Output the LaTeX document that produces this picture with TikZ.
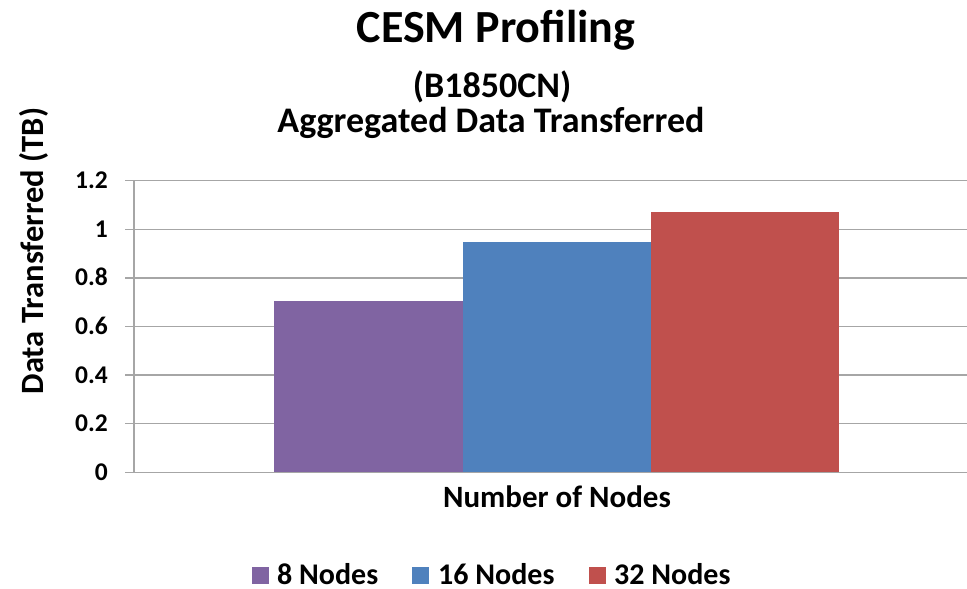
\documentclass[tikz,border=0pt]{standalone}
\usepackage{fontspec}
\setmainfont{Carlito}
\definecolor{gridgray}{HTML}{A6A6A6}
\definecolor{barpurple}{HTML}{8064A2}
\definecolor{barblue}{HTML}{4F81BD}
\definecolor{barred}{HTML}{C0504D}
\tikzset{
  gridline/.style={draw=gridgray, line width=1.5pt},
  ticklabel/.style={anchor=base east, inner sep=0pt, font=\bfseries\fontsize{25.5}{30}\selectfont},
  axistitle/.style={anchor=base, inner sep=0pt, font=\bfseries\fontsize{31}{36}\selectfont},
  ytitletext/.style={anchor=base, inner sep=0pt, rotate=90, font=\bfseries\fontsize{32.5}{38}\selectfont},
  legendtext/.style={anchor=base west, inner sep=0pt, font=\bfseries\fontsize{30}{36}\selectfont},
  titletext/.style={anchor=base, inner sep=0pt, font=\bfseries\fontsize{46}{52}\selectfont},
  subtitletext/.style={anchor=base, inner sep=0pt, font=\bfseries\fontsize{36}{42}\selectfont},
}
\begin{document}
\begin{tikzpicture}[x=1pt, y=-1pt]
  \useasboundingbox[fill=white] (0,0) rectangle (967,589);

  % horizontal gridlines with their ticks, and tick labels
  \foreach \v/\lab [count=\i from 0] in {0/0, 0.2/0.2, 0.4/0.4, 0.6/0.6, 0.8/0.8, 1.0/1, 1.2/1.2} {
    \pgfmathsetmacro{\yy}{472.3 - \v*243}
    \draw[gridline] (125,\yy) -- (967,\yy);
    \node[ticklabel] (tick\i) at (108,\yy+8) {\lab};
  }

  % bars
  \fill[barpurple] (274,472.3) rectangle (463,300.7);
  \fill[barblue]   (463,472.3) rectangle (651,242.3);
  \fill[barred]    (651,472.3) rectangle (839,211.7);

  % axes
  \draw[gridline] (134,180.5) -- (134,472.3);
  \draw[gridline] (125,472.3) -- (967,472.3);

  % titles
  \node[titletext]    (title) at (496,42)  {CESM Profiling};
  \node[subtitletext] (sub1)  at (492,97)  {(B1850CN)};
  \node[subtitletext] (sub2)  at (491,132) {Aggregated Data Transferred};

  % axis titles
  \node[axistitle] (xtitle) at (557,507) {Number of Nodes};
  \node[ytitletext] (ytitle) at (43,251) {Data Transferred (TB)};

  % legend
  \fill[barpurple] (252,567) rectangle (269,584);
  \node[legendtext] (leg1) at (277,584) {8 Nodes};
  \fill[barblue]   (412,567) rectangle (429,584);
  \node[legendtext] (leg2) at (438,584) {16 Nodes};
  \fill[barred]    (589,567) rectangle (606,584);
  \node[legendtext] (leg3) at (614,584) {32 Nodes};
\end{tikzpicture}
\end{document}
